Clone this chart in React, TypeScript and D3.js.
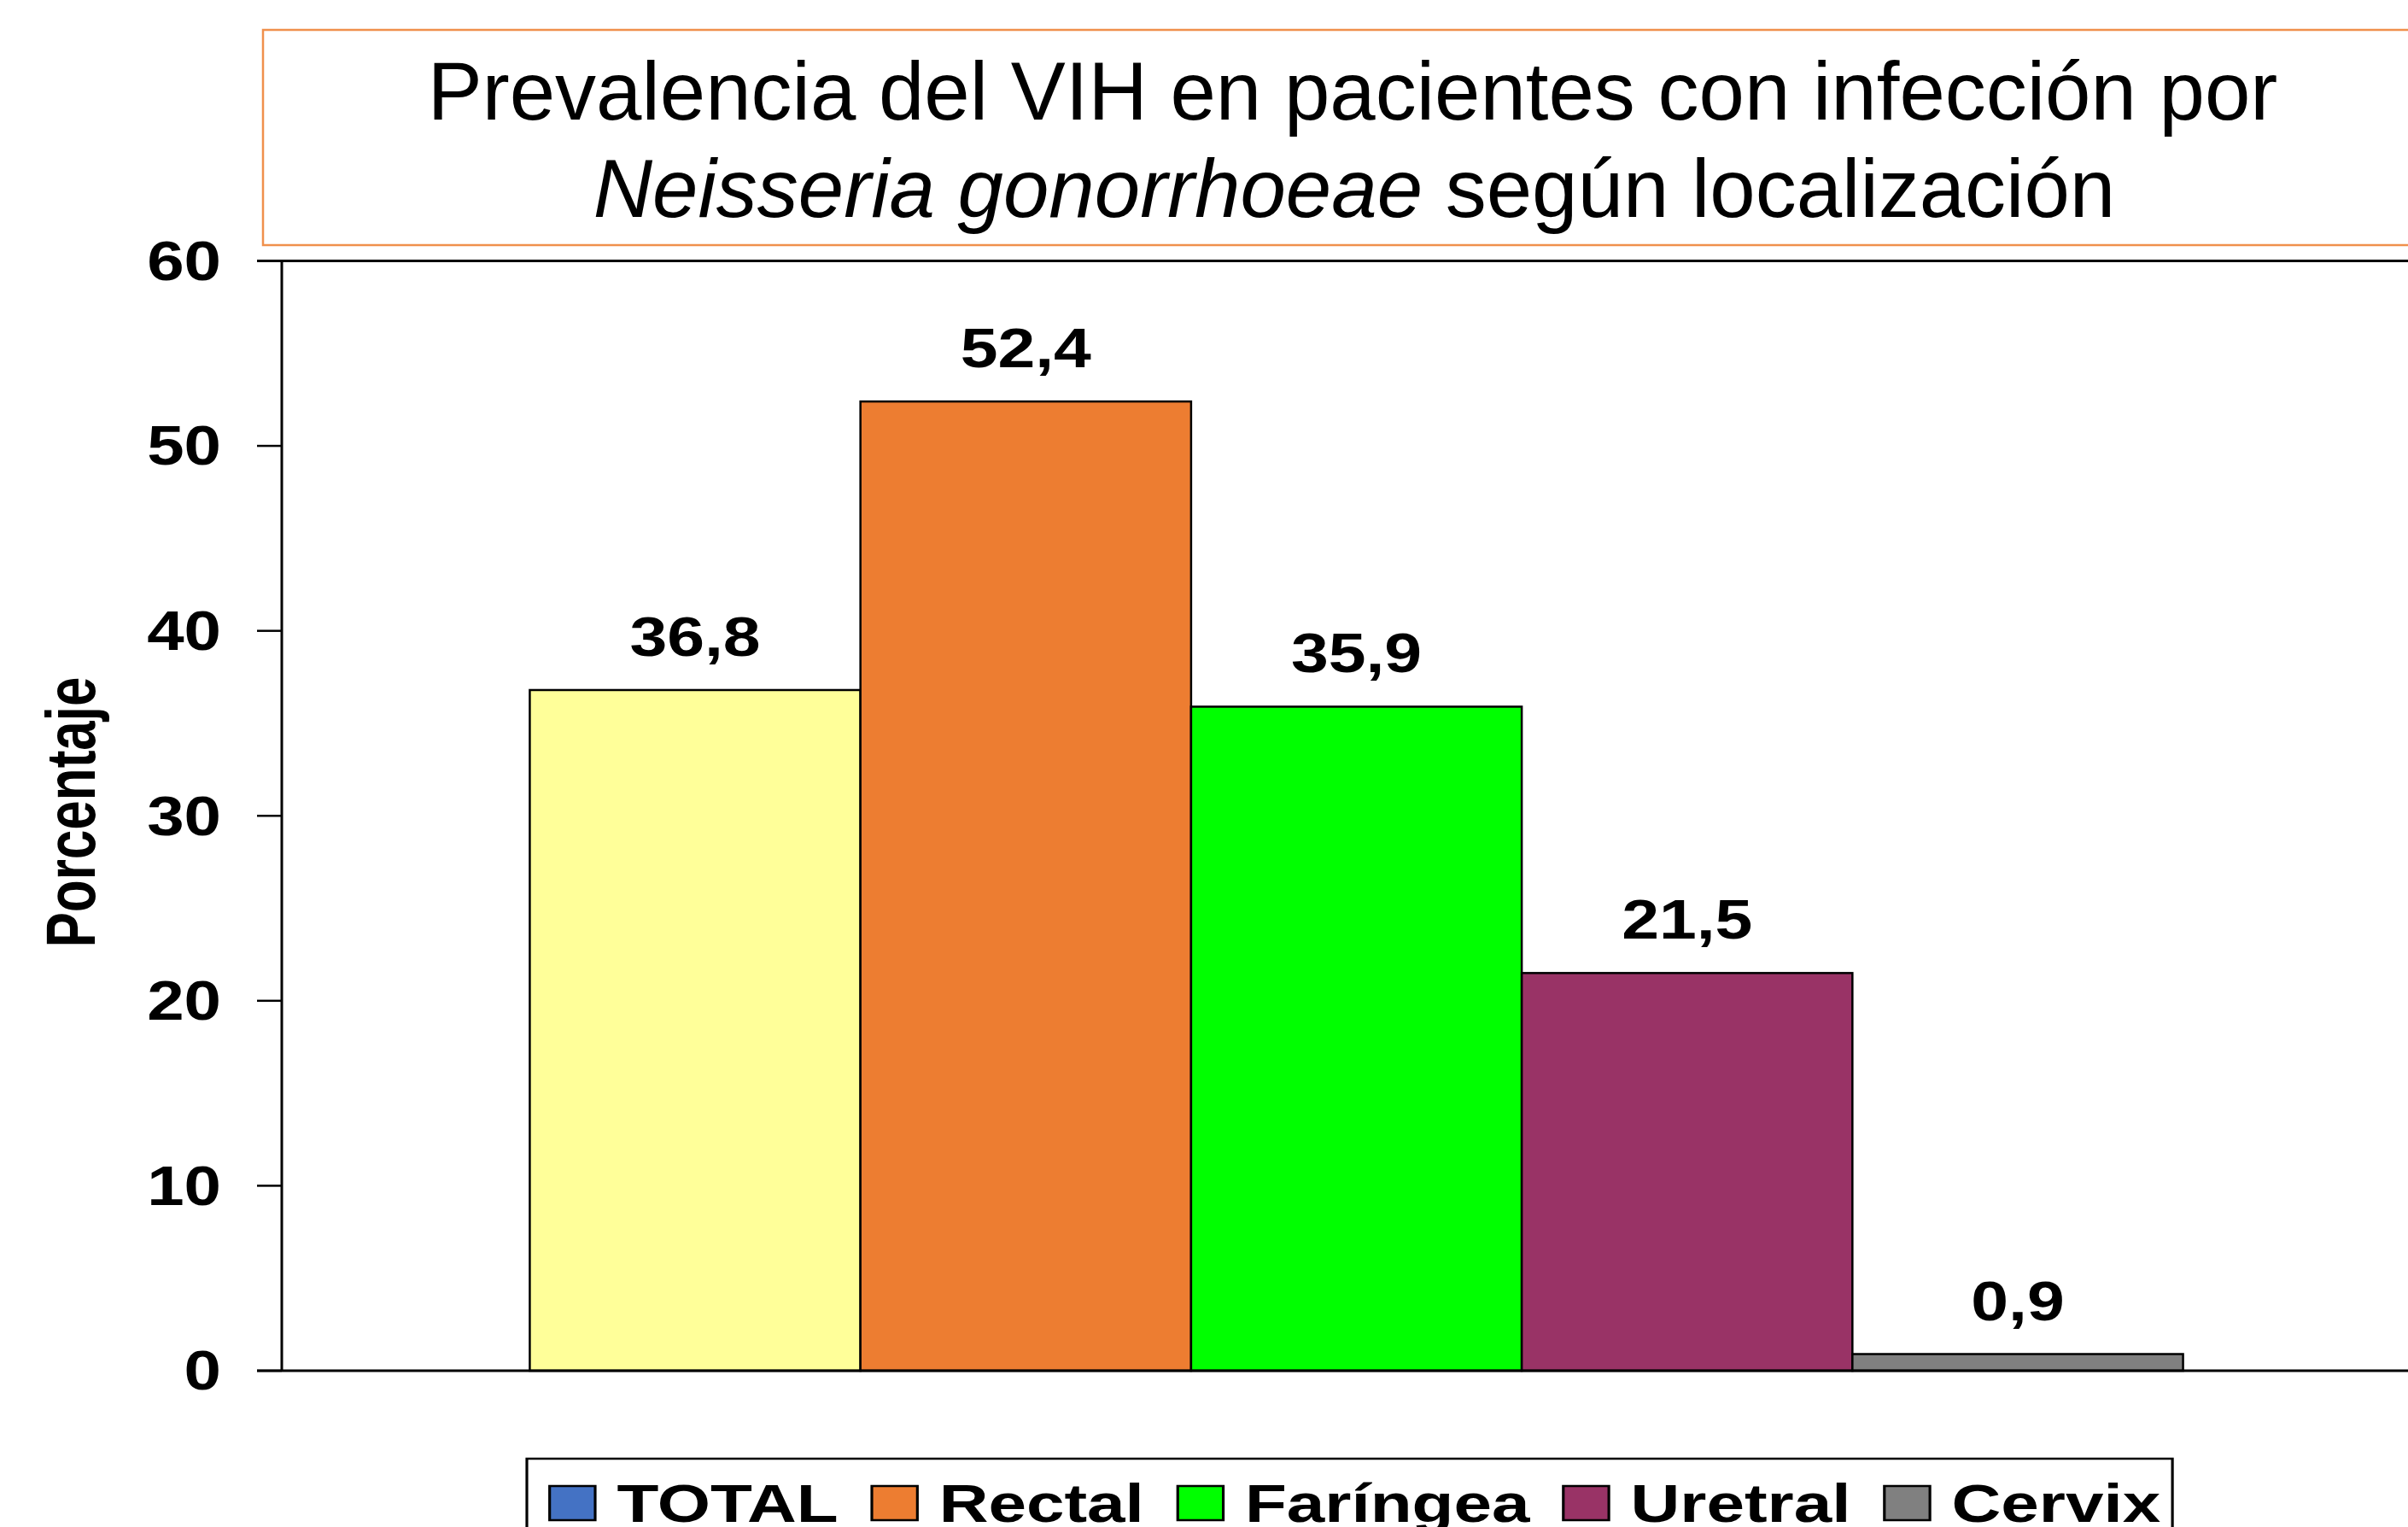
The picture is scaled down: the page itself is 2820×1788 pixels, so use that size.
import React, { useRef, useEffect } from 'react';
import * as d3 from 'd3';

const titleLine1 = 'Prevalencia del VIH en pacientes con infección por';
const titleItalic = 'Neisseria gonorrhoeae';
const titleRest = ' según localización';
const yAxisTitle = 'Porcentaje';

const category = [''];
const seriesNames = ['TOTAL', 'Rectal', 'Faríngea', 'Uretral', 'Cervix'];
const seriesValues = [36.8, 52.4, 35.9, 21.5, 0.9];
const barColors = ['#FFFF99', '#ED7D31', '#00FF00', '#993366', '#808080'];
// the legend swatch for TOTAL is blue in the original, even though the bar is yellow
const legendColors = ['#4472C4', '#ED7D31', '#00FF00', '#993366', '#808080'];
const yTicks = [0, 10, 20, 30, 40, 50, 60];

const W = 2820;
const H = 1788;
const FONT = 'Liberation Sans, Arial, sans-serif';
const STRETCH = 1.23; // bold text in the source is widened horizontally

function App() {
  const svgRef = useRef<SVGSVGElement | null>(null);

  useEffect(() => {
    const svg = d3.select(svgRef.current);
    svg.selectAll('*').remove();

    // plot area
    const left = 330;
    const right = 2847;
    const top = 305.5;
    const bottom = 1605;

    const x0 = d3.scaleBand<string>()
      .domain(category)
      .range([left, right])
      .paddingInner(0)
      .paddingOuter(0.15);

    const x1 = d3.scaleBand<string>()
      .domain(seriesNames)
      .range([0, x0.bandwidth()])
      .padding(0);

    const y = d3.scaleLinear()
      .domain([0, 60])
      .range([bottom, top]);

    const fmt = d3.formatLocale({ decimal: ',', thousands: '.', grouping: [3], currency: ['', '€'] }).format('.1f');

    svg.append('rect')
      .attr('width', W)
      .attr('height', H)
      .attr('fill', '#ffffff');

    // title box
    svg.append('rect')
      .attr('x', 308)
      .attr('y', 35)
      .attr('width', 2700)
      .attr('height', 252)
      .attr('fill', 'none')
      .attr('stroke', '#F0904C')
      .attr('stroke-width', 2.5);

    svg.append('text')
      .attr('x', 1584)
      .attr('y', 140)
      .attr('text-anchor', 'middle')
      .style('font-family', FONT)
      .style('font-size', '96px')
      .attr('fill', '#000')
      .text(titleLine1);

    const t2 = svg.append('text')
      .attr('x', 1586)
      .attr('y', 254)
      .attr('text-anchor', 'middle')
      .style('font-family', FONT)
      .style('font-size', '96px')
      .attr('fill', '#000');
    t2.append('tspan').style('font-style', 'italic').text(titleItalic);
    t2.append('tspan').text(titleRest);

    // bars
    const g = svg.append('g')
      .attr('transform', `translate(${x0(category[0])},0)`);

    g.selectAll('.bar')
      .data(seriesValues)
      .enter()
      .append('rect')
      .attr('class', 'bar')
      .attr('x', (_d, i) => x1(seriesNames[i]) as number)
      .attr('y', d => y(d))
      .attr('width', x1.bandwidth())
      .attr('height', d => y(0) - y(d))
      .attr('fill', (_d, i) => barColors[i])
      .attr('stroke', '#000')
      .attr('stroke-width', 2.5);

    // value labels
    g.selectAll('.value')
      .data(seriesValues)
      .enter()
      .append('g')
      .attr('class', 'value')
      .attr('transform', (d, i) => `translate(${(x1(seriesNames[i]) as number) + x1.bandwidth() / 2},${y(d) - 40}) scale(${STRETCH},1)`)
      .append('text')
      .attr('text-anchor', 'middle')
      .style('font-family', FONT)
      .style('font-weight', 'bold')
      .style('font-size', '64px')
      .text(d => fmt(d));

    // frame: top line, y axis, baseline
    svg.append('line')
      .attr('x1', left - 29).attr('x2', W + 10)
      .attr('y1', top).attr('y2', top)
      .attr('stroke', '#000').attr('stroke-width', 3);
    svg.append('line')
      .attr('x1', left - 29).attr('x2', W + 10)
      .attr('y1', bottom).attr('y2', bottom)
      .attr('stroke', '#000').attr('stroke-width', 3);
    svg.append('line')
      .attr('x1', left).attr('x2', left)
      .attr('y1', top).attr('y2', bottom)
      .attr('stroke', '#000').attr('stroke-width', 3);

    // y ticks
    svg.selectAll('.tick')
      .data(yTicks)
      .enter()
      .append('line')
      .attr('class', 'tick')
      .attr('x1', left - 29).attr('x2', left)
      .attr('y1', d => y(d)).attr('y2', d => y(d))
      .attr('stroke', '#000').attr('stroke-width', 2.5);

    svg.selectAll('.ticklabel')
      .data(yTicks)
      .enter()
      .append('g')
      .attr('class', 'ticklabel')
      .attr('transform', d => `translate(259,${y(d)}) scale(1.22,1)`)
      .append('text')
      .attr('text-anchor', 'end')
      .attr('dy', '0.35em')
      .style('font-family', FONT)
      .style('font-weight', 'bold')
      .style('font-size', '64px')
      .text(d => d);

    // y axis title
    svg.append('g')
      .attr('transform', `translate(111,951) scale(1.33,1) rotate(-90)`)
      .append('text')
      .attr('text-anchor', 'middle')
      .style('font-family', FONT)
      .style('font-weight', 'bold')
      .style('font-size', '62px')
      .text(yAxisTitle);

    // legend
    const lsx = 1.27;
    const legend = svg.append('g')
      .attr('transform', `translate(617,1708) scale(${lsx},1)`);
    const box = legend.append('rect')
      .attr('x', 0)
      .attr('y', 0)
      .attr('height', 200)
      .attr('fill', '#fff')
      .attr('stroke', '#000')
      .attr('stroke-width', 2.5);

    let lx = 21;
    seriesNames.forEach((name, i) => {
      legend.append('rect')
        .attr('x', lx)
        .attr('y', 32)
        .attr('width', 42)
        .attr('height', 40)
        .attr('fill', legendColors[i])
        .attr('stroke', '#000')
        .attr('stroke-width', 2.5);
      const txt = legend.append('text')
        .attr('x', lx + 62)
        .attr('y', 74)
        .style('font-family', FONT)
        .style('font-weight', 'bold')
        .style('font-size', '63px')
        .text(name);
      const w = (txt.node() as SVGTextElement).getComputedTextLength();
      lx = lx + 62 + w + 31;
    });
    box.attr('width', lx - 31 + 11);
  }, []);

  return (
    <svg
      ref={svgRef}
      width={W}
      height={H}
      style={{ position: 'absolute', left: 0, top: 0, display: 'block', overflow: 'hidden' }}
    />
  );
}

export default App;
